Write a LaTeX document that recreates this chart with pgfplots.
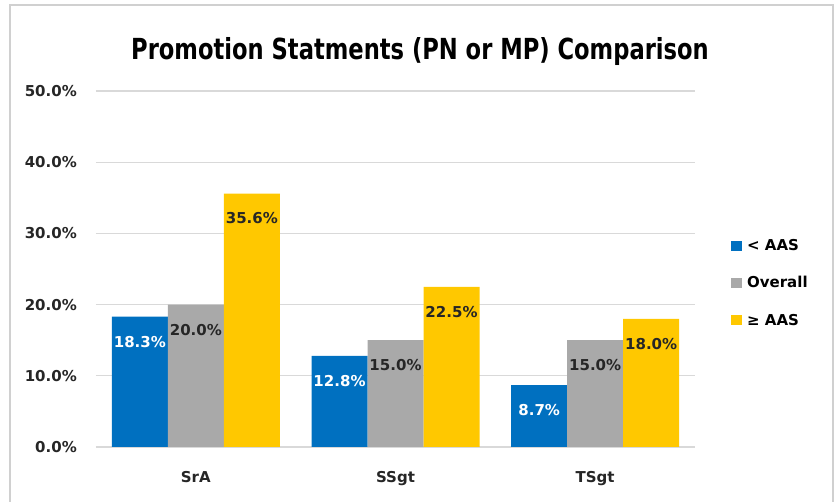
\documentclass[border=0pt]{standalone}
\usepackage{fontspec}
\setmainfont{DejaVu Sans}
\usepackage{pgfplots}
\pgfplotsset{compat=1.18}
\definecolor{cblue}{HTML}{0070C0}
\definecolor{cgrey}{HTML}{A9A9A9}
\definecolor{cyell}{HTML}{FFC800}
\definecolor{cgrid}{HTML}{D9D9D9}
\definecolor{cframe}{HTML}{D0D0D0}
\begin{document}
\begin{tikzpicture}
\begin{axis}[
  at={(96pt,50pt)}, anchor=south west,
  scale only axis, width=599pt, height=356pt,
  ybar=0pt, bar width=56pt,
  xmin=-0.5, xmax=2.5, ymin=0, ymax=50,
  xtick={0,1,2}, xticklabels={SrA,SSgt,TSgt},
  ytick={0,10,20,30,40,50},
  yticklabels={0.0\%,10.0\%,20.0\%,30.0\%,40.0\%,50.0\%},
  major tick length=0pt,
  axis line style={draw=none},
  axis x line*=bottom,
  ymajorgrids, grid style={cgrid, line width=1.2pt},
  every axis plot/.append style={draw=none},
  /pgf/number format/assume math mode=true,
  tick label style={font=\fontsize{15}{17}\selectfont\bfseries, text=black!85},
  yticklabel style={anchor=east, inner sep=0pt, xshift=-19pt},
  xticklabel style={anchor=base, inner sep=0pt, yshift=-36pt},
  nodes near coords={\pgfmathprintnumber[fixed,fixed zerofill,precision=1]{\pgfplotspointmeta}\%},
  nodes near coords style={anchor=center, yshift=-25pt, font=\fontsize{15}{17}\selectfont\bfseries, text=black!85, inner sep=0pt},
  legend image code/.code={\fill[#1] (0pt,-5pt) rectangle (11pt,5pt); \path (14pt,0pt);},
  legend style={at={(1.055,0.595)}, anchor=north west, draw=none, fill=none,
    font=\fontsize{15}{17}\selectfont\bfseries, row sep=20.5pt,
    nodes={inner sep=2pt}},
  legend cell align=left,
]
\addplot[fill=cblue, nodes near coords style={text=white}] coordinates {(0,18.3) (1,12.8) (2,8.7)};
\addplot[fill=cgrey] coordinates {(0,20.0) (1,15.0) (2,15.0)};
\addplot[fill=cyell] coordinates {(0,35.6) (1,22.5) (2,18.0)};
\legend{< AAS, Overall, ≥ AAS}
\end{axis}
\draw[cframe, line width=1.5pt] (10pt,-5pt) -- (10pt,492pt) -- (833pt,492pt) -- (833pt,-5pt);
\node[anchor=base, inner sep=0pt] at (420pt,437pt) {\scalebox{0.78}[1]{\fontsize{29}{32}\selectfont\bfseries Promotion Statments (PN or MP) Comparison}};
\path[use as bounding box] (0pt,0pt) rectangle (835pt,497pt);
\end{tikzpicture}
\end{document}
